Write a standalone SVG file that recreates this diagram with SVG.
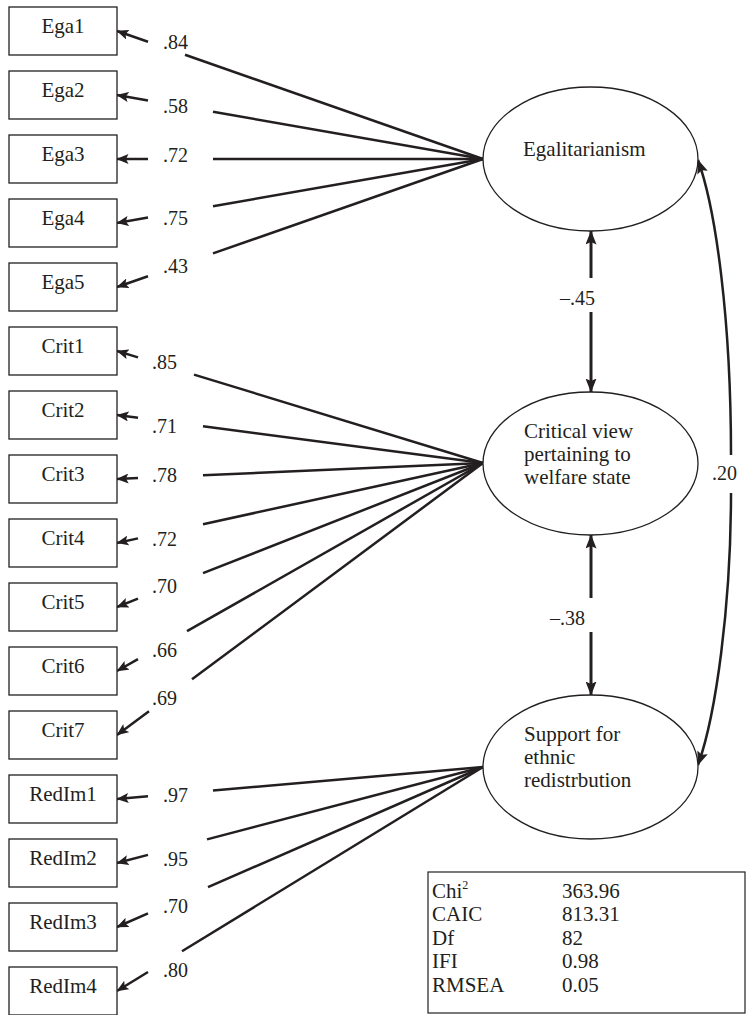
<svg xmlns="http://www.w3.org/2000/svg" width="746" height="1015" viewBox="0 0 746 1015">
<style>
.box{fill:#fff;stroke:#231f20;stroke-width:1.3}
.ell{fill:#fff;stroke:#231f20;stroke-width:1.3}
.t{font-family:"Liberation Serif","Times New Roman",serif;font-size:21px;fill:#231f20}
.bt{font-family:"Liberation Serif","Times New Roman",serif;font-size:21px;fill:#231f20;text-anchor:middle}
.lb{font-family:"Liberation Serif","Times New Roman",serif;font-size:20px;fill:#231f20}
.ln{stroke:#231f20;stroke-width:2.5;fill:none}
.ar{stroke:#231f20;stroke-width:2.5;fill:none;marker-end:url(#ah)}
.va{stroke:#231f20;stroke-width:3;fill:none;marker-end:url(#vh)}
</style>
<defs>
<marker id="ah" markerUnits="userSpaceOnUse" viewBox="0 0 12 10" refX="11.5" refY="5" markerWidth="12" markerHeight="10" orient="auto">
<path d="M0,0 L12,5 L0,10 L2.5,5 z" fill="#231f20"/>
</marker>
<marker id="vh" markerUnits="userSpaceOnUse" viewBox="0 0 14 11" refX="13.5" refY="5.5" markerWidth="14" markerHeight="11" orient="auto">
<path d="M0,0 L14,5.5 L0,11 L2.5,5.5 z" fill="#231f20"/>
</marker>
</defs>
<rect width="746" height="1015" fill="#fff"/>

<g id="connectors">
<line class="ln" x1="483" y1="159" x2="185" y2="54.8"/><line class="ar" x1="148" y1="41.8" x2="117" y2="31"/>
<line class="ln" x1="483" y1="159" x2="213" y2="111.8"/><line class="ar" x1="148" y1="100.4" x2="117" y2="95"/>
<line class="ln" x1="483" y1="159" x2="213" y2="159"/><line class="ar" x1="148" y1="159" x2="117" y2="159"/>
<line class="ln" x1="483" y1="159" x2="213" y2="206.2"/><line class="ar" x1="148" y1="217.6" x2="117" y2="223"/>
<line class="ln" x1="483" y1="159" x2="213" y2="253.4"/><line class="ar" x1="148" y1="276.2" x2="117" y2="287"/>
<line class="ln" x1="483" y1="463" x2="194" y2="374.6"/><line class="ar" x1="138" y1="357.4" x2="117" y2="351"/>
<line class="ln" x1="483" y1="463" x2="203" y2="426.3"/><line class="ar" x1="138" y1="417.8" x2="117" y2="415"/>
<line class="ln" x1="483" y1="463" x2="203" y2="475.2"/><line class="ar" x1="138" y1="478.1" x2="117" y2="479"/>
<line class="ln" x1="483" y1="463" x2="203" y2="524.2"/><line class="ar" x1="138" y1="538.4" x2="117" y2="543"/>
<line class="ln" x1="483" y1="463" x2="203" y2="573.2"/><line class="ar" x1="138" y1="598.7" x2="117" y2="607"/>
<line class="ln" x1="483" y1="463" x2="187" y2="631.2"/><line class="ar" x1="138" y1="659.1" x2="117" y2="671"/>
<line class="ln" x1="483" y1="463" x2="192" y2="679.3"/><line class="ar" x1="149" y1="711.2" x2="117" y2="735"/>
<line class="ln" x1="483" y1="767" x2="213" y2="790.6"/><line class="ar" x1="148" y1="796.3" x2="117" y2="799"/>
<line class="ln" x1="483" y1="767" x2="207" y2="839.4"/><line class="ar" x1="148" y1="854.9" x2="117" y2="863"/>
<line class="ln" x1="483" y1="767" x2="208" y2="887.2"/><line class="ar" x1="148" y1="913.4" x2="117" y2="927"/>
<line class="ln" x1="483" y1="767" x2="182" y2="951.2"/><line class="ar" x1="148" y1="972" x2="117" y2="991"/>
<line class="va" x1="591" y1="278" x2="591" y2="231"/>
<line class="va" x1="591" y1="312" x2="591" y2="392"/>
<line class="va" x1="591" y1="598" x2="591" y2="535"/>
<line class="va" x1="591" y1="632" x2="591" y2="695"/>
<path class="ln" d="M731 455 C731 320 716 210 698 160" style="marker-end:url(#vh)"/>
<path class="ln" d="M731 493 C731 605 716 715 698 765" style="marker-end:url(#vh)"/>
<text class="lb" x="163" y="49">.84</text>
<text class="lb" x="163" y="113">.58</text>
<text class="lb" x="163" y="162">.72</text>
<text class="lb" x="163" y="225">.75</text>
<text class="lb" x="163" y="273">.43</text>
<text class="lb" x="152" y="369">.85</text>
<text class="lb" x="152" y="433">.71</text>
<text class="lb" x="152" y="482">.78</text>
<text class="lb" x="152" y="546">.72</text>
<text class="lb" x="152" y="593">.70</text>
<text class="lb" x="152" y="657">.66</text>
<text class="lb" x="152" y="705">.69</text>
<text class="lb" x="163" y="802">.97</text>
<text class="lb" x="163" y="866">.95</text>
<text class="lb" x="163" y="913">.70</text>
<text class="lb" x="163" y="977">.80</text>
<text class="lb" x="560" y="305">–.45</text>
<text class="lb" x="550" y="625">–.38</text>
<text class="lb" x="712" y="480">.20</text>
</g>

<g id="Ega1"><rect class="box" x="9" y="7" width="108" height="48"/><text class="bt" x="63" y="33">Ega1</text></g>
<g id="Ega2"><rect class="box" x="9" y="71" width="108" height="48"/><text class="bt" x="63" y="97">Ega2</text></g>
<g id="Ega3"><rect class="box" x="9" y="135" width="108" height="48"/><text class="bt" x="63" y="161">Ega3</text></g>
<g id="Ega4"><rect class="box" x="9" y="199" width="108" height="48"/><text class="bt" x="63" y="225">Ega4</text></g>
<g id="Ega5"><rect class="box" x="9" y="263" width="108" height="48"/><text class="bt" x="63" y="289">Ega5</text></g>
<g id="Crit1"><rect class="box" x="9" y="327" width="108" height="48"/><text class="bt" x="63" y="353">Crit1</text></g>
<g id="Crit2"><rect class="box" x="9" y="391" width="108" height="48"/><text class="bt" x="63" y="417">Crit2</text></g>
<g id="Crit3"><rect class="box" x="9" y="455" width="108" height="48"/><text class="bt" x="63" y="481">Crit3</text></g>
<g id="Crit4"><rect class="box" x="9" y="519" width="108" height="48"/><text class="bt" x="63" y="545">Crit4</text></g>
<g id="Crit5"><rect class="box" x="9" y="583" width="108" height="48"/><text class="bt" x="63" y="609">Crit5</text></g>
<g id="Crit6"><rect class="box" x="9" y="647" width="108" height="48"/><text class="bt" x="63" y="673">Crit6</text></g>
<g id="Crit7"><rect class="box" x="9" y="711" width="108" height="48"/><text class="bt" x="63" y="737">Crit7</text></g>
<g id="RedIm1"><rect class="box" x="9" y="775" width="108" height="48"/><text class="bt" x="63" y="801">RedIm1</text></g>
<g id="RedIm2"><rect class="box" x="9" y="839" width="108" height="48"/><text class="bt" x="63" y="865">RedIm2</text></g>
<g id="RedIm3"><rect class="box" x="9" y="903" width="108" height="48"/><text class="bt" x="63" y="929">RedIm3</text></g>
<g id="RedIm4"><rect class="box" x="9" y="967" width="108" height="48"/><text class="bt" x="63" y="993">RedIm4</text></g>

<g id="Egalitarianism"><ellipse class="ell" cx="590.5" cy="159" rx="107.5" ry="72"/><text class="t" x="523" y="156">Egalitarianism</text></g>
<g id="Critical"><ellipse class="ell" cx="590.5" cy="463.5" rx="107.5" ry="71.5"/>
<text class="t" x="524" y="438">Critical view</text><text class="t" x="524" y="461">pertaining to</text><text class="t" x="524" y="484">welfare state</text></g>
<g id="Support"><ellipse class="ell" cx="590.5" cy="767" rx="107.5" ry="72"/>
<text class="t" x="524" y="741">Support for</text><text class="t" x="524" y="764">ethnic</text><text class="t" x="524" y="787">redistrbution</text></g>

<g id="fitstats">
<rect x="428" y="872" width="317" height="141" fill="#fff" stroke="#231f20" stroke-width="1.2"/>
<text class="t" x="432" y="898">Chi<tspan font-size="12" dy="-9">2</tspan></text>
<text class="t" x="432" y="921">CAIC</text>
<text class="t" x="432" y="945">Df</text>
<text class="t" x="432" y="968">IFI</text>
<text class="t" x="432" y="992">RMSEA</text>
<text class="t" x="562" y="898">363.96</text>
<text class="t" x="562" y="921">813.31</text>
<text class="t" x="562" y="945">82</text>
<text class="t" x="562" y="968">0.98</text>
<text class="t" x="562" y="992">0.05</text>
</g>
</svg>
